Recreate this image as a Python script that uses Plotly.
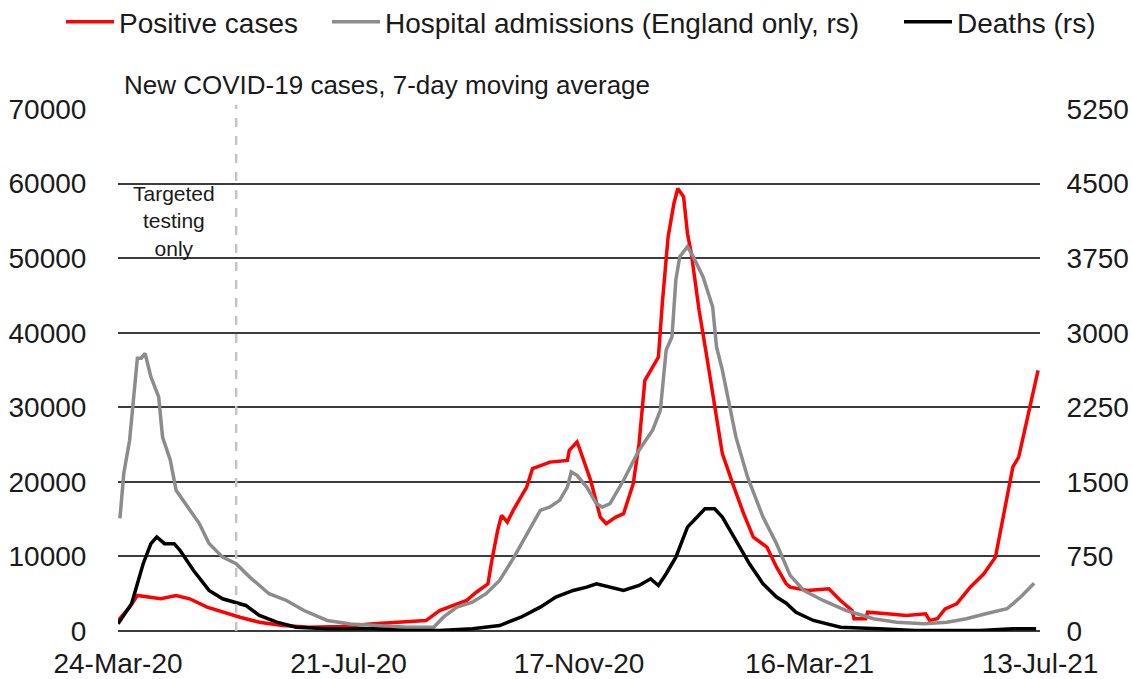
import pandas as pd
import plotly.graph_objects as go

START = "2020-03-24"
tick_dates = ["2020-03-24", "2020-07-21", "2020-11-17", "2021-03-16", "2021-07-13"]
testing_cutoff = "2020-05-24"

# Positive cases (left axis): day offset from START, 7-day average
pos_days = [0, 6, 10, 15, 22, 30, 37, 46, 54, 63, 73, 85, 99, 115, 132, 149, 159, 166, 171, 180,
            185, 191, 193, 196, 198, 201, 204, 211, 214, 220, 223, 232, 233, 237, 238, 244, 249, 252, 257, 261,
            266, 269, 272, 276, 279, 281, 284, 287, 289, 292, 294, 296, 300, 304, 309, 312, 318, 323, 328, 335,
            340, 345, 347, 356, 367, 373, 379, 380, 386, 387, 397, 407, 417, 419, 423, 427, 433, 440, 447, 453,
            457, 462, 465, 471, 475]
pos_vals = [1400, 3200, 4760, 4530, 4320, 4760, 4320, 3200, 2520, 1850, 1180, 740, 500, 600, 970, 1180, 1400, 2750, 3200, 4100,
            5200, 6330, 9460, 13500, 15500, 14600, 16170, 19300, 21770, 22440, 22650, 22880, 24220, 25340, 24670, 20200, 15270, 14390, 15270, 15730,
            19750, 25120, 33620, 35400, 36740, 43900, 52850, 57330, 59340, 58220, 53300, 50620, 43010, 36740, 28690, 23780, 19300, 15730, 12590, 11250,
            8560, 6330, 5880, 5430, 5660, 4090, 2750, 1640, 1640, 2520, 2300, 2080, 2300, 1400, 1640, 2970, 3650, 5880, 7670, 9900,
            15270, 22000, 23330, 30030, 34960]

# Hospital admissions, England only (right axis)
hosp_days = [1, 3, 6, 9, 10, 12, 14, 17, 21, 23, 27, 30, 37, 42, 47, 54, 61, 68, 78, 87,
             96, 108, 120, 132, 149, 163, 168, 175, 183, 190, 197, 204, 211, 218, 223, 228, 232, 234, 237, 242,
             247, 250, 254, 261, 269, 276, 280, 283, 286, 288, 290, 294, 297, 302, 307, 309, 312, 316, 319, 325,
             333, 340, 347, 354, 364, 376, 390, 402, 416, 428, 438, 448, 459, 466, 473]
hosp_vals = [1133, 1586, 1919, 2523, 2744, 2744, 2791, 2556, 2354, 1951, 1717, 1415, 1213, 1080, 881, 743, 676, 542, 375, 307,
             206, 106, 70, 60, 38, 38, 139, 240, 290, 375, 508, 727, 979, 1213, 1247, 1314, 1448, 1599, 1566, 1448,
             1281, 1247, 1281, 1516, 1818, 2019, 2220, 2825, 2959, 3530, 3764, 3865, 3764, 3563, 3261, 2858, 2623, 2220, 1952, 1549,
             1146, 878, 560, 408, 307, 206, 123, 89, 72, 89, 123, 173, 224, 341, 481]

# Deaths (right axis)
death_days = [0, 7, 13, 17, 20, 24, 29, 32, 39, 47, 54, 61, 66, 73, 82, 92, 108, 132, 149, 166,
              183, 197, 208, 218, 226, 235, 242, 247, 261, 269, 275, 279, 283, 288, 294, 299, 303, 308, 312, 319,
              326, 333, 340, 345, 350, 359, 373, 393, 411, 445, 462, 474]
death_vals = [72, 274, 677, 878, 945, 878, 878, 811, 609, 408, 324, 290, 257, 156, 89, 38, 22, 22, 5, 5,
              22, 55, 139, 240, 341, 408, 441, 475, 408, 458, 525, 458, 576, 743, 1045, 1146, 1230, 1230, 1146, 911,
              676, 475, 341, 280, 189, 106, 38, 22, 5, 5, 22, 22]

left_ticks = [0, 10000, 20000, 30000, 40000, 50000, 60000, 70000]
right_ticks = [0, 750, 1500, 2250, 3000, 3750, 4500, 5250]

start = pd.Timestamp(START)
to_dates = lambda days: [start + pd.Timedelta(days=d) for d in days]

FONT = "Arial, Liberation Sans, sans-serif"
TXT = "#1a1a1a"
LW = 3.5

fig = go.Figure()
fig.add_trace(go.Scatter(x=to_dates(pos_days), y=pos_vals, name="Positive cases",
                         mode="lines", line=dict(color="#ff0000", width=LW), legend="legend"))
fig.add_trace(go.Scatter(x=to_dates(hosp_days), y=hosp_vals, name="Hospital admissions (England only, rs)",
                         mode="lines", line=dict(color="#8c8c8c", width=LW), yaxis="y2", legend="legend2"))
fig.add_trace(go.Scatter(x=to_dates(death_days), y=death_vals, name="Deaths (rs)",
                         mode="lines", line=dict(color="#000000", width=LW), yaxis="y2", legend="legend3"))

fig.add_shape(type="line", xref="x", yref="paper", x0=testing_cutoff, x1=testing_cutoff,
              y0=0, y1=1.008, line=dict(color="#c4c4c4", width=2.5, dash="dash"), layer="above")

fig.add_annotation(text="New COVID-19 cases, 7-day moving average", xref="paper", yref="paper",
                   x=0.004, y=1.046, xanchor="left", yanchor="middle", showarrow=False,
                   font=dict(size=26, color=TXT, family=FONT))
fig.add_annotation(text="Targeted<br>testing<br>only", xref="x", yref="y",
                   x=start + pd.Timedelta(days=29), y=55000, showarrow=False,
                   font=dict(size=21, color=TXT, family=FONT), align="center")

legend_common = dict(orientation="h", xref="container", yref="container", y=1 - 22 / 679,
                     xanchor="left", yanchor="middle", itemwidth=48,
                     font=dict(size=28, color=TXT, family=FONT), bgcolor="rgba(0,0,0,0)")

fig.update_layout(
    width=1132, height=679,
    margin=dict(l=118, r=92, t=109, b=48, autoexpand=False),
    paper_bgcolor="white", plot_bgcolor="white",
    font=dict(family=FONT, color=TXT, size=28),
    showlegend=True, hovermode=False,
    legend=dict(x=61 / 1132, **legend_common),
    legend2=dict(x=327 / 1132, **legend_common),
    legend3=dict(x=899 / 1132, **legend_common),
    xaxis=dict(type="date", range=[tick_dates[0], tick_dates[-1]], tickvals=tick_dates,
               tickformat="%d-%b-%y", showgrid=False, zeroline=False, showline=False,
               ticks="outside", ticklen=7, tickcolor="rgba(0,0,0,0)", automargin=False,
               tickfont=dict(size=28, color=TXT, family=FONT)),
    yaxis=dict(range=[0, 70000], tickvals=left_ticks, tickformat="d", showgrid=True,
               gridcolor="#3c3c3c", gridwidth=2, zeroline=True, zerolinecolor="#3c3c3c",
               zerolinewidth=2, showline=False, ticks="outside", ticklen=25, automargin=False,
               tickcolor="rgba(0,0,0,0)", tickfont=dict(size=28, color=TXT, family=FONT)),
    yaxis2=dict(range=[0, 5250], tickvals=right_ticks, tickformat="d", overlaying="y", side="right",
                showgrid=False, zeroline=False, showline=False, ticks="outside", ticklen=20,
                automargin=False, tickcolor="rgba(0,0,0,0)",
                tickfont=dict(size=28, color=TXT, family=FONT)),
)

fig.write_html("out.html", config={"displayModeBar": False},
               post_script="document.body.style.margin='0px';")
